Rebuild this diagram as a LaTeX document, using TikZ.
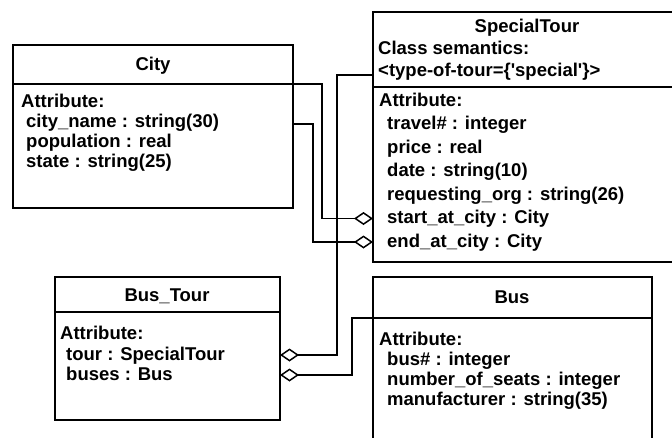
\documentclass[tikz,border=0pt]{standalone}
\usepackage{fontspec}
\setmainfont{Liberation Sans}
\usetikzlibrary{arrows.meta}
\begin{document}
\begin{tikzpicture}[x=1pt,y=-1pt,
  lw/.style={line width=1.6pt},
  txt/.style={anchor=base west, inner sep=0pt, font=\fontsize{18.5}{21}\selectfont\bfseries},
  ttl/.style={anchor=base, inner sep=0pt, font=\fontsize{18.5}{21}\selectfont\bfseries},
  agg/.style={lw, -{Diamond[open, length=19pt, width=13pt, line width=1.5pt]}}]
\clip (0,0) rectangle (672,437);
\fill[white] (0,0) rectangle (672,437);
% City
\draw[lw] (13,45) rectangle (293,208);
\draw[lw] (13,84) -- (293,84);
\node[ttl] (cityT) at (153,70) {City};
\node[txt] (cityA) at (21,107) {Attribute:};
\node[txt] (cityA1) at (26,127) {city\_name : string(30)};
\node[txt] (cityA2) at (26,147) {population : real};
\node[txt] (cityA3) at (26,167) {state : string(25)};
\coordinate (cityE1) at (293,84);
\coordinate (cityE2) at (293,124);
% SpecialTour
\draw[lw] (373,12) rectangle (690,262);
\draw[lw] (373,87) -- (690,87);
\node[ttl] (stT) at (527,32) {SpecialTour};
\node[txt] (stC1) at (378,54) {Class semantics:};
\node[txt] (stC2) at (378,76) {<type-of-tour=\{\textquotesingle special\textquotesingle\}>};
\node[txt] (stA) at (379,106) {Attribute:};
\node[txt] (stA1) at (387,129.5) {travel\# : integer};
\node[txt] (stA2) at (387,153) {price : real};
\node[txt] (stA3) at (387,176.5) {date : string(10)};
\node[txt] (stA4) at (387,200) {requesting\_org : string(26)};
\node[txt] (stA5) at (387,223.5) {start\_at\_city : City};
\node[txt] (stA6) at (387,247) {end\_at\_city : City};
\coordinate (stW0) at (373,75);
\coordinate (stW1) at (373,218.5);
\coordinate (stW2) at (373,242);
% Bus_Tour
\draw[lw] (55,277) rectangle (280,420);
\draw[lw] (55,312) -- (280,312);
\node[ttl] (btT) at (167,301) {Bus\_Tour};
\node[txt] (btA) at (60,339) {Attribute:};
\node[txt] (btA1) at (66,360) {tour : SpecialTour};
\node[txt] (btA2) at (66,380) {buses : Bus};
\coordinate (btE1) at (280,355);
\coordinate (btE2) at (280,375);
% Bus
\draw[lw] (373,277) rectangle (652,460);
\draw[lw] (373,318) -- (652,318);
\node[ttl] (busT) at (512,303) {Bus};
\node[txt] (busA) at (379,345) {Attribute:};
\node[txt] (busA1) at (387,365) {bus\# : integer};
\node[txt] (busA2) at (387,385) {number\_of\_seats : integer};
\node[txt] (busA3) at (387,405) {manufacturer : string(35)};
\coordinate (busW) at (373,318);
% connectors
\draw[agg] (cityE1) -- (322,84) -- (322,218.5) -- (stW1);
\draw[agg] (cityE2) -- (313,124) -- (313,242) -- (stW2);
\draw[agg] (stW0) -- (337,75) -- (337,355) -- (btE1);
\draw[agg] (busW) -- (352,318) -- (352,375) -- (btE2);
\end{tikzpicture}
\end{document}
